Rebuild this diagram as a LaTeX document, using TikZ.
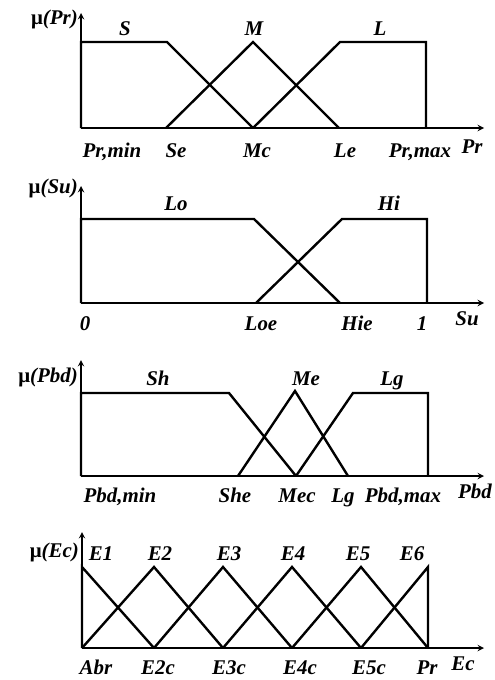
\documentclass[tikz,border=0pt]{standalone}
\usepackage{fontspec}
\setmainfont{Liberation Serif}
\tikzset{
  lbl/.style={font=\bfseries\itshape\fontsize{21}{21}\selectfont, inner sep=0pt, anchor=base},
  ylbl/.style={lbl, anchor=base east},
  axis/.style={->, line width=1.8bp},
  mf/.style={line width=2.4bp, line join=miter}
}
\begin{document}
\begin{tikzpicture}[>=stealth, x=1bp, y=-1bp]
    \useasboundingbox (0,0) rectangle (495,680);

    % Panel (a): mu(Pr)
    \coordinate (o1) at (81,128);
    \coordinate (x1) at (484,128);
    \coordinate (y1) at (81,13);
    \draw[axis] (o1) -- (x1);
    \draw[axis] (o1) -- (y1);
    \node[ylbl] (mu1) at (78,25) {{\upshape μ}(Pr)};
    \draw[mf] (81,128) -- (81,42) -- (167,42) -- (253,128); % S
    \draw[mf] (166,128) -- (253,42) -- (339,128);            % M
    \draw[mf] (253,128) -- (340,42) -- (426,42) -- (426,128); % L
    \node[lbl] (s)  at (125,36) {S};
    \node[lbl] (m)  at (254,36) {M};
    \node[lbl] (l)  at (380,36) {L};
    \node[lbl] (prmin) at (112,157) {Pr,min};
    \node[lbl] (se) at (176,157) {Se};
    \node[lbl] (mc) at (257,157) {Mc};
    \node[lbl] (le) at (345,157) {Le};
    \node[lbl] (prmax) at (420,157) {Pr,max};
    \node[lbl] (pr) at (472,153) {Pr};

    % Panel (b): mu(Su)
    \coordinate (o2) at (81,303);
    \coordinate (x2) at (484,303);
    \coordinate (y2) at (81,186);
    \draw[axis] (o2) -- (x2);
    \draw[axis] (o2) -- (y2);
    \node[ylbl] (mu2) at (78,193) {{\upshape μ}(Su)};
    \draw[mf] (81,303) -- (81,219) -- (254,219) -- (340,303); % Lo
    \draw[mf] (256,303) -- (342,219) -- (427,219) -- (427,303); % Hi
    \node[lbl] (lo) at (176,210) {Lo};
    \node[lbl] (hi) at (389,210) {Hi};
    \node[lbl] (zero) at (85,330) {0};
    \node[lbl] (loe) at (261,330) {Loe};
    \node[lbl] (hie) at (357,330) {Hie};
    \node[lbl] (one) at (422,330) {1};
    \node[lbl] (su) at (467,325) {Su};

    % Panel (c): mu(Pbd)
    \coordinate (o3) at (81,476);
    \coordinate (x3) at (484,476);
    \coordinate (y3) at (81,360);
    \draw[axis] (o3) -- (x3);
    \draw[axis] (o3) -- (y3);
    \node[ylbl] (mu3) at (78,382) {{\upshape μ}(Pbd)};
    \draw[mf] (81,476) -- (81,393) -- (229,393) -- (296,476); % Sh
    \draw[mf] (238,476) -- (295,391) -- (348,476);            % Me
    \draw[mf] (296,476) -- (353,393) -- (428,393) -- (428,476); % Lg
    \node[lbl] (sh) at (158,385) {Sh};
    \node[lbl] (me) at (306,385) {Me};
    \node[lbl] (lg) at (392,385) {Lg};
    \node[lbl] (pbdmin) at (120,502) {Pbd,min};
    \node[lbl] (she) at (235,502) {She};
    \node[lbl] (mec) at (297,502) {Mec};
    \node[lbl] (lgc) at (343,502) {Lg};
    \node[lbl] (pbdmax) at (403,502) {Pbd,max};
    \node[lbl] (pbd) at (475,498) {Pbd};

    % Panel (d): mu(Ec)
    \coordinate (o4) at (82,648);
    \coordinate (x4) at (484,648);
    \coordinate (y4) at (82,532);
    \draw[axis] (o4) -- (x4);
    \draw[axis] (o4) -- (y4);
    \node[ylbl] (mu4) at (79,557) {{\upshape μ}(Ec)};
    \draw[mf] (82,648) -- (82,567) -- (154,648); % E1
    \foreach \a/\b/\c in {82/154/223, 154/223/292, 223/292/361, 292/361/428}
        \draw[mf] (\a,648) -- (\b,567) -- (\c,648);
    \draw[mf] (361,648) -- (428,567) -- (428,648); % E6
    \node[lbl] (e1) at (101,560) {E1};
    \node[lbl] (e2) at (160,560) {E2};
    \node[lbl] (e3) at (229,560) {E3};
    \node[lbl] (e4) at (293,560) {E4};
    \node[lbl] (e5) at (358,560) {E5};
    \node[lbl] (e6) at (412,560) {E6};
    \node[lbl] (abr) at (96,674) {Abr};
    \node[lbl] (e2c) at (158,674) {E2c};
    \node[lbl] (e3c) at (229,674) {E3c};
    \node[lbl] (e4c) at (300,674) {E4c};
    \node[lbl] (e5c) at (369,674) {E5c};
    \node[lbl] (prr) at (427,674) {Pr};
    \node[lbl] (ec) at (463,670) {Ec};
\end{tikzpicture}
\end{document}
